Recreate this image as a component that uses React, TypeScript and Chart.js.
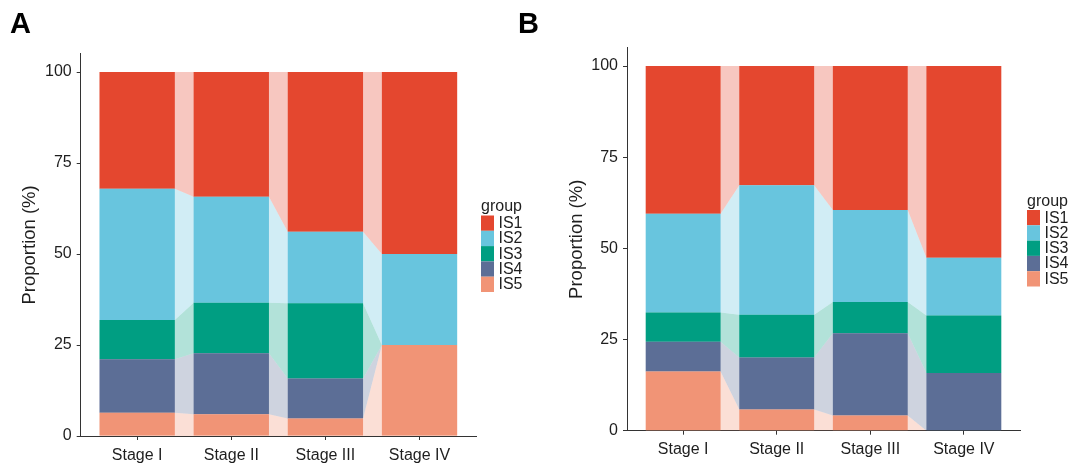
import React, { useEffect, useRef } from 'react';
import { Chart, registerables } from 'chart.js';

Chart.register(...registerables);

// ---------- data ----------
const stages = ['Stage I', 'Stage II', 'Stage III', 'Stage IV'];
const groups = ['IS1', 'IS2', 'IS3', 'IS4', 'IS5'];
const yTickValues = [0, 25, 50, 75, 100];
const yMax = 105;

// Panel A proportions (%) per stage
const aIS1 = [32.1, 34.3, 43.9, 50.0];
const aIS2 = [36.0, 29.1, 19.6, 25.0];
const aIS3 = [10.8, 13.9, 20.7, 0];
const aIS4 = [14.7, 16.7, 11.0, 0];
const aIS5 = [6.4, 6.0, 4.8, 25.0];

// Panel B proportions (%) per stage
const bIS1 = [40.5, 32.7, 39.5, 52.6];
const bIS2 = [27.1, 35.5, 25.2, 15.8];
const bIS3 = [8.0, 11.7, 8.6, 15.8];
const bIS4 = [8.2, 14.3, 22.5, 15.8];
const bIS5 = [16.2, 5.8, 4.2, 0];

const panelAValues = [aIS1, aIS2, aIS3, aIS4, aIS5];
const panelBValues = [bIS1, bIS2, bIS3, bIS4, bIS5];

// ---------- styles ----------
const barColors = ['#E4472F', '#68C5DE', '#009E82', '#5C6E96', '#F19476'];
const flowColors = [
  'rgba(228,71,47,0.3)',
  'rgba(104,197,222,0.3)',
  'rgba(0,158,130,0.3)',
  'rgba(92,110,150,0.3)',
  'rgba(241,148,118,0.3)',
];
const FONT = "'Liberation Sans', Arial, Helvetica, sans-serif";
const TEXT = '#1e1e1e';
const AXIS = '#333333';
const H = 465;

type Layout = {
  letter: string;
  letterX: number;
  canvasLeft: number;
  canvasWidth: number;
  axisLeft: number;
  axisRight: number;
  axisTop: number;
  axisBottom: number;
  titleX: number;
  legendX: number;
  legendTitleY: number;
  legendKeyTop: number;
};

const layoutA: Layout = {
  letter: 'A',
  letterX: 10,
  canvasLeft: 0,
  canvasWidth: 537,
  axisLeft: 80.7,
  axisRight: 476,
  axisTop: 53.8,
  axisBottom: 436,
  titleX: 29.5,
  legendX: 481,
  legendTitleY: 210.5,
  legendKeyTop: 215.5,
};

const layoutB: Layout = {
  letter: 'B',
  letterX: 518,
  canvasLeft: 505,
  canvasWidth: 570,
  axisLeft: 627,
  axisRight: 1020,
  axisTop: 47.8,
  axisBottom: 430.7,
  titleX: 577,
  legendX: 1027,
  legendTitleY: 205.5,
  legendKeyTop: 210,
};

function buildDatasets(values: number[][]) {
  const n = stages.length;
  const bottoms = groups.map(() => new Array(n).fill(0));
  for (let s = 0; s < n; s++) {
    let acc = 0;
    for (let g = groups.length - 1; g >= 0; g--) {
      bottoms[g][s] = acc;
      acc += values[g][s];
    }
  }
  const datasets: any[] = [];
  // alluvial flows (drawn underneath the strata)
  for (let g = 0; g < groups.length; g++) {
    const topPts: any[] = [];
    const botPts: any[] = [];
    for (let s = 0; s < n; s++) {
      const c = s + 1;
      const b = bottoms[g][s];
      const t = b + values[g][s];
      topPts.push({ x: c - 0.4, y: t }, { x: c + 0.4, y: t });
      botPts.push({ x: c - 0.4, y: b }, { x: c + 0.4, y: b });
    }
    datasets.push({
      type: 'line',
      label: groups[g] + ' flow',
      data: topPts,
      xAxisID: 'x',
      yAxisID: 'y2',
      borderWidth: 0,
      pointRadius: 0,
      pointHoverRadius: 0,
      tension: 0,
      backgroundColor: flowColors[g],
      fill: '+1',
      order: 2,
    });
    datasets.push({
      type: 'line',
      label: groups[g] + ' flow base',
      data: botPts,
      xAxisID: 'x',
      yAxisID: 'y2',
      borderWidth: 0,
      pointRadius: 0,
      pointHoverRadius: 0,
      tension: 0,
      backgroundColor: 'rgba(0,0,0,0)',
      fill: false,
      order: 2,
    });
  }
  // strata: stacked bars, IS5 at the bottom
  for (let g = groups.length - 1; g >= 0; g--) {
    datasets.push({
      type: 'bar',
      label: groups[g],
      data: values[g].map((v, s) => ({ x: s + 1, y: v })),
      xAxisID: 'x',
      yAxisID: 'y',
      backgroundColor: barColors[g],
      borderWidth: 0,
      barPercentage: 0.8,
      categoryPercentage: 1,
      order: 0,
    });
  }
  return datasets;
}

function Panel({ values, layout }: { values: number[][]; layout: Layout }) {
  const ref = useRef<HTMLCanvasElement | null>(null);
  useEffect(() => {
    if (!ref.current) return;
    const L = layout;
    const off = L.canvasLeft;
    const yAxisWidth = L.axisLeft - off;
    const xAxisHeight = H - L.axisBottom;
    const titleSize = 18.5;
    const titleLH = titleSize * 1.2;
    const tickSize = 16;

    const overlay = {
      id: 'panelOverlay' + L.letter,
      afterDraw(chart: any) {
        const ctx = chart.ctx;
        ctx.save();
        ctx.textAlign = 'left';
        ctx.textBaseline = 'alphabetic';
        ctx.fillStyle = '#000';
        ctx.font = `bold 29px ${FONT}`;
        ctx.fillText(L.letter, L.letterX - off, 33.3);

        // legend
        const lx = L.legendX - off;
        ctx.fillStyle = TEXT;
        ctx.font = `16px ${FONT}`;
        ctx.fillText('group', lx, L.legendTitleY);
        const keyW = 13;
        const keyH = 15.3;
        for (let g = 0; g < groups.length; g++) {
          const ky = L.legendKeyTop + g * keyH;
          ctx.fillStyle = barColors[g];
          ctx.fillRect(lx, ky, keyW, keyH);
          ctx.fillStyle = TEXT;
          ctx.textBaseline = 'middle';
          ctx.fillText(groups[g], lx + keyW + 4.5, ky + keyH / 2 + 0.5);
          ctx.textBaseline = 'alphabetic';
        }
        ctx.restore();
      },
    };

    const chart = new Chart(ref.current, {
      type: 'bar',
      data: { datasets: buildDatasets(values) },
      plugins: [overlay],
      options: {
        responsive: false,
        animation: false,
        devicePixelRatio: 1,
        events: [],
        layout: {
          padding: {
            left: 0,
            top: L.axisTop,
            right: L.canvasWidth - (L.axisRight - off),
            bottom: 0,
          },
        },
        plugins: {
          legend: { display: false },
          tooltip: { enabled: false },
          title: { display: false },
        },
        scales: {
          x: {
            type: 'linear',
            min: 0.4,
            max: 4.6,
            stacked: true,
            offset: false,
            grid: {
              display: true,
              offset: false,
              drawOnChartArea: false,
              drawTicks: true,
              tickLength: 4,
              tickColor: AXIS,
              tickWidth: 1,
            },
            border: { display: true, color: AXIS, width: 1 },
            ticks: {
              color: TEXT,
              font: { family: FONT, size: tickSize },
              padding: 5.5,
              autoSkip: false,
              maxRotation: 0,
              minRotation: 0,
              callback: (v: any) => stages[Math.round(Number(v)) - 1] ?? '',
            },
            afterBuildTicks: (s: any) => {
              s.ticks = stages.map((_, i) => ({ value: i + 1 }));
            },
            afterFit: (s: any) => {
              s.height = xAxisHeight;
            },
          },
          y: {
            type: 'linear',
            stacked: true,
            min: 0,
            max: yMax,
            grid: {
              display: true,
              drawOnChartArea: false,
              drawTicks: true,
              tickLength: 4,
              tickColor: AXIS,
              tickWidth: 1,
            },
            border: { display: true, color: AXIS, width: 1 },
            ticks: {
              color: TEXT,
              font: { family: FONT, size: tickSize },
              padding: 5,
            },
            title: {
              display: true,
              text: 'Proportion (%)',
              color: TEXT,
              font: { family: FONT, size: titleSize },
              padding: { top: L.titleX - off - titleLH / 2, bottom: 0 },
            },
            afterBuildTicks: (s: any) => {
              s.ticks = yTickValues.map((v) => ({ value: v }));
            },
            afterFit: (s: any) => {
              s.width = yAxisWidth;
            },
          },
          y2: {
            type: 'linear',
            display: false,
            stacked: false,
            min: 0,
            max: yMax,
          },
        },
      } as any,
    });
    return () => chart.destroy();
  }, []);
  return (
    <canvas
      ref={ref}
      width={layout.canvasWidth}
      height={H}
      style={{
        position: 'absolute',
        left: layout.canvasLeft,
        top: 0,
        width: layout.canvasWidth,
        height: H,
      }}
    />
  );
}

export default function App() {
  return (
    <div
      style={{
        position: 'absolute',
        left: 0,
        top: 0,
        width: 1075,
        height: H,
        background: '#ffffff',
        overflow: 'hidden',
      }}
    >
      <Panel values={panelAValues} layout={layoutA} />
      <Panel values={panelBValues} layout={layoutB} />
    </div>
  );
}
